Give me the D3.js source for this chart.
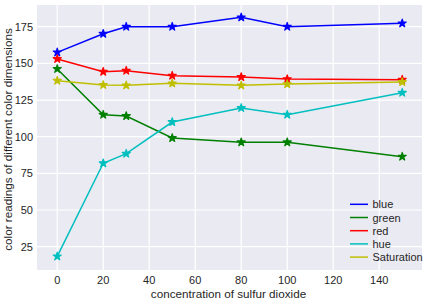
<!DOCTYPE html>
<html><head><meta charset="utf-8">
<script src="https://cdn.jsdelivr.net/npm/d3@7/dist/d3.min.js"></script>
<style>body{margin:0;background:#fff}svg{display:block}</style>
</head><body>
<svg id="c" width="423" height="302"></svg>
<script>
const concentrations = [0, 20, 30, 50, 80, 100, 150];
const blueVals = [157.5, 170.2, 175, 175, 181.4, 175, 177.3];
const greenVals = [146.2, 115, 114.1, 99.1, 96.2, 96.2, 86.4];
const redVals = [153, 144.3, 145, 141.6, 140.7, 139.3, 138.9];
const hueVals = [18.4, 81.9, 88.4, 110, 119.6, 115, 130];
const saturationVals = [138.2, 135.3, 135, 136.4, 135, 135.9, 137.3];
const seriesNames = ["blue", "green", "red", "hue", "Saturation"];
const seriesColors = ["#0000ff", "#008000", "#ff0000", "#00bfbf", "#bfbf00"];
const xTicks = [0, 20, 40, 60, 80, 100, 120, 140];
const yTicks = [25, 50, 75, 100, 125, 150, 175];

const series = [blueVals, greenVals, redVals, hueVals, saturationVals];
const svg = d3.select("#c");
const L = 37, T = 5, R = 422, B = 270;
const x = d3.scaleLinear().domain([-8.8, 158.6]).range([L, R]);
const y = d3.scaleLinear().domain([9.1, 189.8]).range([B, T]);
const font = "'Liberation Sans', Arial, sans-serif";

svg.append("rect").attr("x", L).attr("y", T).attr("width", R - L).attr("height", B - T).attr("fill", "#eaeaf2");
const g = svg.append("g");
g.selectAll(".vg").data(xTicks).enter().append("line")
  .attr("x1", d => x(d)).attr("x2", d => x(d)).attr("y1", T).attr("y2", B)
  .attr("stroke", "#fff").attr("stroke-width", 1.2);
g.selectAll(".hg").data(yTicks).enter().append("line")
  .attr("y1", d => y(d)).attr("y2", d => y(d)).attr("x1", L).attr("x2", R)
  .attr("stroke", "#fff").attr("stroke-width", 1.2);

svg.selectAll(".xt").data(xTicks).enter().append("text")
  .attr("x", d => x(d)).attr("y", 284).attr("text-anchor", "middle")
  .attr("font-family", font).attr("font-size", 11).attr("fill", "#262626").text(d => d);
svg.selectAll(".yt").data(yTicks).enter().append("text")
  .attr("x", 33).attr("y", d => y(d) + 4).attr("text-anchor", "end")
  .attr("font-family", font).attr("font-size", 11).attr("fill", "#262626").text(d => d);

svg.append("text").attr("x", 228.5).attr("y", 298).attr("text-anchor", "middle")
  .attr("font-family", font).attr("font-size", 11.7).attr("fill", "#262626")
  .text("concentration of sulfur dioxide");
svg.append("text").attr("transform", `translate(12,${(T + B) / 2 + 2}) rotate(-90)`).attr("text-anchor", "middle")
  .attr("font-family", font).attr("font-size", 11.7).attr("fill", "#262626")
  .text("color readings of different color dimensions");

const line = d3.line().x(d => x(d[0])).y(d => y(d[1]));
const star = d3.symbol().type(d3.symbolStar).size(20);
series.forEach((vals, i) => {
  const pts = concentrations.map((c, j) => [c, vals[j]]);
  svg.append("path").datum(pts).attr("d", line).attr("fill", "none")
    .attr("stroke", seriesColors[i]).attr("stroke-width", 1.5);
  svg.selectAll(".m" + i).data(pts).enter().append("path")
    .attr("d", star).attr("transform", d => `translate(${x(d[0])},${y(d[1])})`)
    .attr("fill", seriesColors[i]).attr("stroke", seriesColors[i]).attr("stroke-width", 1.2)
    .attr("stroke-linejoin", "round");
});

const leg = svg.append("g");
seriesNames.forEach((n, i) => {
  const ly = 204.3 + i * 13.2;
  leg.append("line").attr("x1", 350).attr("x2", 368).attr("y1", ly).attr("y2", ly)
    .attr("stroke", seriesColors[i]).attr("stroke-width", 1.5);
  leg.append("text").attr("x", 372.5).attr("y", ly + 4).attr("font-family", font)
    .attr("font-size", 11).attr("fill", "#262626").text(n);
});
</script>
</body></html>
